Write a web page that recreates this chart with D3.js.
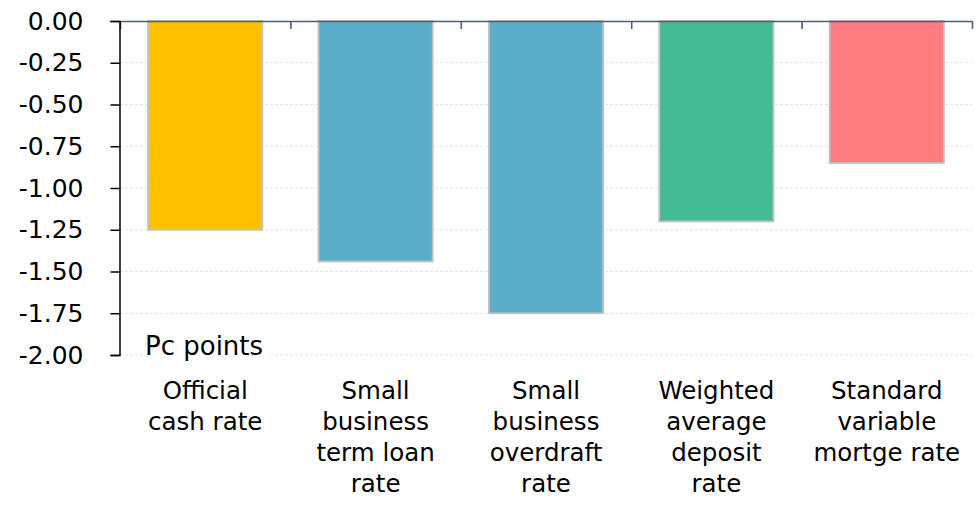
<!DOCTYPE html>
<html>
<head>
<meta charset="utf-8">
<script src="https://cdn.jsdelivr.net/npm/d3@7"></script>
<style>
  html, body { margin: 0; padding: 0; background: #fff; }
  svg { display: block; }
  text { font-family: "Century Gothic", "URW Gothic", "DejaVu Sans", sans-serif; fill: #000; }
</style>
</head>
<body>
<svg id="chart" width="980" height="514"></svg>
<script>
const categories = [
  ["Official", "cash rate"],
  ["Small", "business", "term loan", "rate"],
  ["Small", "business", "overdraft", "rate"],
  ["Weighted", "average", "deposit", "rate"],
  ["Standard", "variable", "mortge rate"]
];
const values = [-1.25, -1.44, -1.75, -1.20, -0.85];
const colors = ["#FFC000", "#5BADC9", "#5BADC9", "#44BA96", "#FF7B80"];
const yTicks = [0, -0.25, -0.5, -0.75, -1, -1.25, -1.5, -1.75, -2];
const unitLabel = "Pc points";

const svg = d3.select("#chart");
const mLeft = 120, mRight = 972, mTop = 21, mBottom = 355;
const tickFont = 25;
const labelFont = 24.5;

const ids = categories.map((c, i) => i);
const x = d3.scaleBand().domain(ids).range([mLeft, mRight]).paddingInner(0.33).paddingOuter(0.165);
const xEdges = d3.scaleLinear().domain([0, categories.length]).range([mLeft, mRight]);
const y = d3.scaleLinear().domain([-2, 0]).range([mBottom, mTop]);

// gridlines
svg.append("g")
  .selectAll("line")
  .data(yTicks.filter(t => t !== 0))
  .join("line")
  .attr("x1", mLeft).attr("x2", mRight)
  .attr("y1", d => y(d)).attr("y2", d => y(d))
  .attr("stroke", "#e2e2e2").attr("stroke-width", 1)
  .attr("stroke-dasharray", "3,2");

// bars
svg.append("g")
  .selectAll("rect")
  .data(values)
  .join("rect")
  .attr("x", (d, i) => x(i))
  .attr("width", x.bandwidth())
  .attr("y", d => y(0))
  .attr("height", d => y(d) - y(0))
  .attr("fill", (d, i) => colors[i])
  .attr("stroke", "#c0c0c0")
  .attr("stroke-width", 1.8);

// unit label with white background
const ul = svg.append("g");
const ulText = ul.append("text")
  .attr("x", 145).attr("y", 355)
  .attr("font-size", 26)
  .text(unitLabel);
const bb = ulText.node().getBBox();
ul.insert("rect", "text")
  .attr("x", bb.x - 2).attr("y", bb.y).attr("width", bb.width + 10).attr("height", bb.height)
  .attr("fill", "#fff");

// top x axis (at zero)
const xAxis = svg.append("g")
  .attr("transform", `translate(0,${y(0)})`)
  .call(d3.axisBottom(xEdges).tickValues(d3.range(categories.length + 1)).tickSize(8).tickSizeOuter(0).tickFormat(""));
xAxis.select(".domain").attr("stroke", "#4d5f70").attr("stroke-width", 1.6).attr("d", `M${mLeft - 10},0.5H${mRight}`);
xAxis.selectAll(".tick line").attr("stroke", "#4d5f70").attr("stroke-width", 1.6);

// y axis
const yAxis = svg.append("g")
  .attr("transform", `translate(${mLeft - 0.5},0)`)
  .attr("font-size", tickFont)
  .call(d3.axisLeft(y).tickValues(yTicks).tickSize(9).tickSizeOuter(9).tickPadding(27).tickFormat(d => d.toFixed(2)));
yAxis.attr("font-size", tickFont).attr("font-family", null);
yAxis.select(".domain").attr("stroke", "#000").attr("stroke-width", 1.5);
yAxis.selectAll(".tick line").attr("stroke", "#000").attr("stroke-width", 1.5);
yAxis.selectAll(".tick text")
  .style("font-size", tickFont + "px")
  .attr("fill", "#000");
yAxis.selectAll(".tick").filter(d => d === 0).select("line").remove();

// category labels
const lab = svg.append("g");
categories.forEach((lines, i) => {
  const t = lab.append("text")
    .attr("text-anchor", "middle")
    .attr("font-size", labelFont)
    .attr("x", x(i) + x.bandwidth() / 2)
    .attr("y", 399);
  lines.forEach((ln, j) => {
    t.append("tspan").attr("x", x(i) + x.bandwidth() / 2).attr("dy", j === 0 ? 0 : 31).text(ln);
  });
});
</script>
</body>
</html>
